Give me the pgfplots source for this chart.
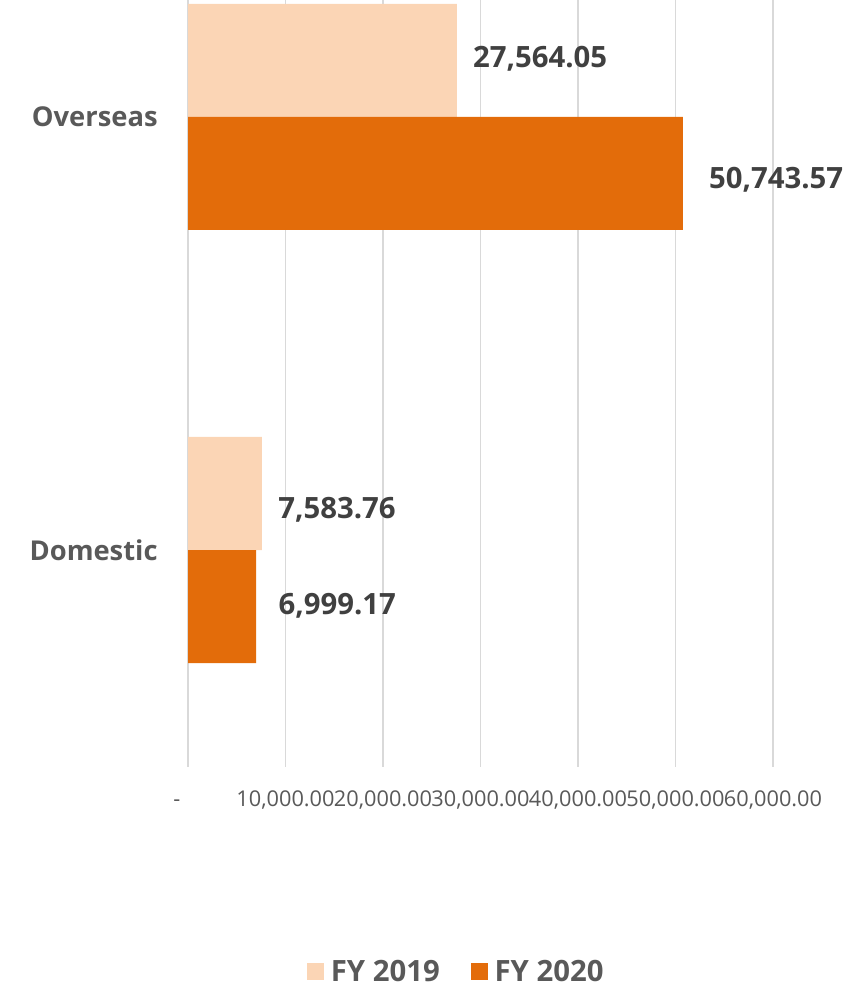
\documentclass[border=0pt]{standalone}
\usepackage{pgfplots}
\usepackage{pgfplotstable}
\pgfplotsset{compat=1.18}
\usepackage{fontspec}
\setmainfont{Open Sans}
\definecolor{cLight}{HTML}{FBD5B5}
\definecolor{cDark}{HTML}{E36C0A}
\definecolor{tGray}{HTML}{595959}
\definecolor{lGray}{HTML}{404040}
\definecolor{gGray}{HTML}{D9D9D9}
\pgfplotstableread{
x        y  dx   dy
7583.76  0  8.7  -12
27564.05 1  8.7  1.5
}\fyA
\pgfplotstableread{
x        y  dx   dy
6999.17  0  13.2 0.75
50743.57 1  16.2 -4.5
}\fyB
\begin{document}
\begin{tikzpicture}
\useasboundingbox (0,0) rectangle (645pt,740.25pt);
\begin{axis}[
  at={(141pt,165pt)}, anchor=south west,
  scale only axis,
  width=438.75pt, height=575.25pt,
  xbar, bar width=0.261,
  xmin=0, xmax=60000,
  ymin=-0.501, ymax=1.27,
  ytick={0,1}, yticklabels={Domestic,Overseas},
  xtick={0,10000,20000,30000,40000,50000,60000},
  scaled x ticks=false,
  xticklabels={{\makebox[22pt][l]{-\vphantom{0}}},{10,000.00},{20,000.00},{30,000.00},{40,000.00},{50,000.00},{60,000.00}},
  /pgf/number format/assume math mode=true,
  xmajorgrids, major grid style={gGray, line width=1.1pt},
  axis line style={draw=none},
  major tick style={draw=none},
  xticklabel style={font=\fontsize{16.3}{18}\selectfont, text=tGray, anchor=north, yshift=-14pt},
  yticklabel style={font=\fontsize{20.5}{24}\selectfont\bfseries, text=tGray, anchor=east, xshift=-15pt},
  visualization depends on={\thisrow{dx} \as \dxv},
  visualization depends on={\thisrow{dy} \as \dyv},
  nodes near coords={\pgfmathprintnumber[fixed,precision=2,fixed zerofill,1000 sep={,}]{\pgfplotspointmeta}},
  point meta=x,
  nodes near coords style={font=\fontsize{22}{24}\selectfont\bfseries, text=lGray, anchor=west, xshift=\dxv pt, yshift=\dyv pt},
  legend style={at={(0.459,-0.267)}, anchor=center, draw=none, fill=none,
    legend columns=2, font=\fontsize{22}{24}\selectfont\bfseries, text=tGray,
    /tikz/every even column/.append style={column sep=21pt},
    /tikz/every odd column/.append style={column sep=3pt}},
  legend image code/.code={\fill[#1] (0pt,-6.5pt) rectangle (13pt,6.5pt);},
]
\addplot[fill=cLight, draw=none, bar shift=0.1305] table[x=x,y=y] {\fyA};
\addplot[fill=cDark, draw=none, bar shift=-0.1305] table[x=x,y=y] {\fyB};
\legend{FY 2019, FY 2020}
\end{axis}
\end{tikzpicture}
\end{document}
